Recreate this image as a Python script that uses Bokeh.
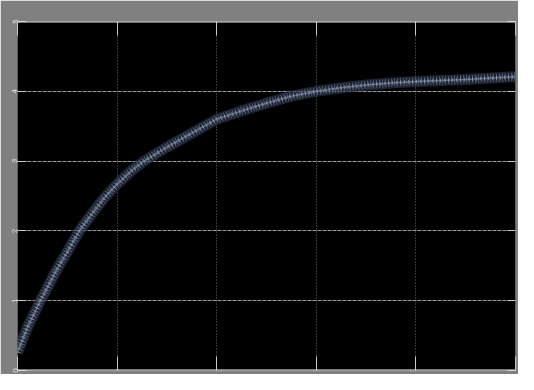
from bokeh.plotting import figure
from bokeh.models import Range1d, LinearAxis, FixedTicker, Span
from bokeh.embed import file_html
from bokeh.resources import INLINE

# data
t = [0.0, 0.1, 0.23, 0.4, 0.5, 0.62, 0.75, 0.87, 1.0, 1.15, 1.27, 1.5, 1.75, 2.0, 2.25, 2.5, 2.75, 3.0, 3.25, 3.5, 3.75, 4.0, 4.5, 5.0]
v = [0.26, 0.62, 1.0, 1.46, 1.7, 2.0, 2.25, 2.47, 2.67, 2.87, 3.0, 3.2, 3.4, 3.6, 3.72, 3.83, 3.93, 4.0, 4.05, 4.09, 4.12, 4.14, 4.17, 4.21]
x_ticks = [0, 1, 2, 3, 4, 5]
y_ticks = [0, 1, 2, 3, 4, 5]
y_labels = {0: "0", 1: "1", 2: "2", 3: "3", 4: "4", 5: "5"}

X0, X1 = 0, 5
Y0, Y1 = 0, 5

p = figure(width=518, height=374, output_backend="svg", toolbar_location=None,
           x_range=Range1d(X0, X1), y_range=Range1d(Y0, Y1),
           background_fill_color="black", border_fill_color="#808080",
           min_border_left=17, min_border_right=3, min_border_top=21, min_border_bottom=4,
           x_axis_location=None, y_axis_location=None)
p.outline_line_color = None

# grid
p.xgrid.ticker = FixedTicker(ticks=x_ticks)
p.ygrid.ticker = FixedTicker(ticks=y_ticks)
p.xgrid.grid_line_color = "#6e6e6e"
p.xgrid.grid_line_dash = "1 2"
p.xgrid.grid_line_width = 1
p.ygrid.grid_line_color = "#9a9a9a"
p.ygrid.grid_line_dash = "4 1"
p.ygrid.grid_line_width = 1

# inward ticks on all sides
def mk_axis(loc, tick_len, labels):
    ticks = x_ticks if loc in ("above", "below") else y_ticks
    ax = LinearAxis(ticker=FixedTicker(ticks=ticks))
    ax.axis_line_color = None
    ax.major_tick_in = tick_len
    ax.major_tick_out = 0
    ax.major_tick_line_color = "#c8c8c8"
    ax.minor_tick_line_color = None
    ax.major_label_standoff = 0
    if labels:
        ax.major_label_overrides = y_labels
        ax.major_label_text_font_size = "8px"
        ax.major_label_text_color = "#e4e4e4"
        ax.major_label_orientation = "vertical"
    else:
        ax.major_label_overrides = {k: "" for k in ticks}
        ax.major_label_text_font_size = "1px"
    p.add_layout(ax, loc)

mk_axis("left", 9, True)
mk_axis("right", 8, False)
mk_axis("above", 14, False)
mk_axis("below", 14, False)

# bright top / bottom frame lines
p.add_layout(Span(location=Y1, dimension="width", line_color="#ececec", line_width=2))
p.add_layout(Span(location=Y0, dimension="width", line_color="#ececec", line_width=2))

# noisy trace band
p.line(t, v, line_color="#283247", line_width=11, line_alpha=0.7)
p.line(t, v, line_color="#7c88a2", line_width=8, line_alpha=0.55, line_dash="1 2")
p.line(t, v, line_color="#cdd5e4", line_width=4, line_alpha=0.5, line_dash="1 3")
p.line(t, v, line_color="#8e9ab2", line_width=1.5, line_alpha=0.6)

open("out.html", "w").write(file_html(p, INLINE))
